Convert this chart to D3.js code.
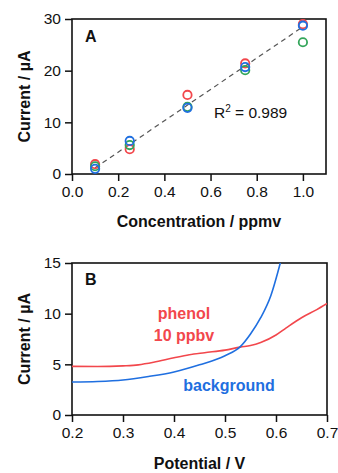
<!DOCTYPE html>
<meta charset="utf-8">
<head>
<style>
body { margin: 0; background: #fff; }
text { font-family: "Liberation Sans", Arial, sans-serif; fill: #111; }
.tick text { font-size: 15.5px; }
.axis path, .axis line { stroke: #111; stroke-width: 1.5; }
.title { font-size: 16px; font-weight: bold; }
.panel { font-size: 16px; font-weight: bold; }
</style>
</head>
<body>
<script src="https://cdn.jsdelivr.net/npm/d3@7"></script>
<script>

// ---- panel A data: current vs concentration, three repeats ----
var conc = [0.1, 0.25, 0.5, 0.75, 1.0];
var runRed = [1.9, 4.8, 15.3, 21.4, 29.0];
var runGreen = [1.5, 5.6, 13.0, 20.1, 25.5];
var runBlue = [1.0, 6.4, 12.8, 20.7, 28.7];
var fitX = [0.1, 1.0];
var fitY = [1.2, 28.5];
var ticksA_x = [0.0, 0.2, 0.4, 0.6, 0.8, 1.0];
var ticksA_y = [0, 10, 20, 30];

// ---- panel B data: voltammograms ----
var phenolV = [0.20, 0.25, 0.30, 0.33, 0.36, 0.40, 0.43, 0.46, 0.50, 0.53, 0.55, 0.57, 0.60, 0.62, 0.65, 0.68, 0.70];
var phenolI = [4.80, 4.78, 4.85, 4.95, 5.20, 5.65, 5.95, 6.15, 6.40, 6.70, 6.85, 7.15, 7.90, 8.60, 9.60, 10.40, 11.00];
var bgV = [0.20, 0.25, 0.30, 0.35, 0.40, 0.45, 0.50, 0.53, 0.55, 0.57, 0.59, 0.61];
var bgI = [3.25, 3.30, 3.45, 3.80, 4.25, 4.95, 5.85, 6.75, 8.00, 9.60, 11.80, 15.30];
var ticksB_x = [0.2, 0.3, 0.4, 0.5, 0.6, 0.7];
var ticksB_y = [0, 5, 10, 15];

var RED = "#f2474c", GREEN = "#33a55a", BLUE = "#1f6fe0";

var svg = d3.select("body").append("svg")
    .attr("width", 338)
    .attr("height", 473);

// draws frame + outward ticks for one panel
function panel(left, top, w, h, xs, ys, xt, yt, xfmt) {
    var g = svg.append("g").attr("transform", "translate(" + left + "," + top + ")");

    g.append("g")
        .attr("class", "axis")
        .attr("transform", "translate(0," + h + ")")
        .call(d3.axisBottom(xs).tickValues(xt).tickSize(7).tickPadding(5).tickSizeOuter(0).tickFormat(xfmt));
    g.append("g")
        .attr("class", "axis")
        .call(d3.axisLeft(ys).tickValues(yt).tickSize(7).tickPadding(4).tickSizeOuter(0));

    g.selectAll(".axis .domain").remove();
    g.selectAll(".tick text").attr("fill", "#111");

    g.append("rect")
        .attr("width", w)
        .attr("height", h)
        .attr("fill", "none")
        .attr("stroke", "#111")
        .attr("stroke-width", 1.6);
    return g;
}

// ===== Panel A =====
var wA = 254, hA = 155;
var xA = d3.scaleLinear().domain([0, 1.1]).range([0, wA]);
var yA = d3.scaleLinear().domain([0, 30]).range([hA, 0]);
var gA = panel(72, 19, wA, hA, xA, yA, ticksA_x, ticksA_y, d3.format(".1f"));

gA.append("path")
    .datum(d3.zip(fitX, fitY))
    .attr("d", d3.line().x(function(d) { return xA(d[0]); }).y(function(d) { return yA(d[1]); }))
    .attr("stroke", "#555")
    .attr("stroke-width", 1.2)
    .attr("stroke-dasharray", "5,4")
    .attr("fill", "none");

[[runRed, RED], [runGreen, GREEN], [runBlue, BLUE]].forEach(function(s) {
    gA.selectAll(null)
        .data(d3.zip(conc, s[0]))
        .enter().append("circle")
        .attr("cx", function(d) { return xA(d[0]); })
        .attr("cy", function(d) { return yA(d[1]); })
        .attr("r", 4.2)
        .attr("fill", "none")
        .attr("stroke", s[1])
        .attr("stroke-width", 1.8);
});

gA.append("text").attr("class", "panel").attr("x", 13).attr("y", 23).text("A");

var r2 = gA.append("text").attr("x", 142).attr("y", 99).style("font-size", "15.5px");
r2.append("tspan").text("R");
r2.append("tspan").attr("dy", -6).style("font-size", "10px").text("2");
r2.append("tspan").attr("dy", 6).text(" = 0.989");

svg.append("text").attr("class", "title")
    .attr("text-anchor", "middle")
    .attr("x", 72 + wA / 2).attr("y", 227)
    .text("Concentration / ppmv");
svg.append("text").attr("class", "title")
    .attr("text-anchor", "middle")
    .attr("transform", "translate(30," + (19 + hA / 2) + ") rotate(-90)")
    .text("Current / µA");

// ===== Panel B =====
var wB = 255, hB = 152;
var xB = d3.scaleLinear().domain([0.2, 0.7]).range([0, wB]);
var yB = d3.scaleLinear().domain([0, 15]).range([hB, 0]);
var gB = panel(72, 263, wB, hB, xB, yB, ticksB_x, ticksB_y, d3.format(".1f"));

gB.append("clipPath").attr("id", "clipB")
    .append("rect").attr("width", wB).attr("height", hB);

var lineB = d3.line()
    .curve(d3.curveMonotoneX)
    .x(function(d) { return xB(d[0]); })
    .y(function(d) { return yB(d[1]); });

gB.append("path")
    .datum(d3.zip(phenolV, phenolI))
    .attr("d", lineB)
    .attr("clip-path", "url(#clipB)")
    .attr("fill", "none")
    .attr("stroke", RED)
    .attr("stroke-width", 1.6);

gB.append("path")
    .datum(d3.zip(bgV, bgI))
    .attr("d", lineB)
    .attr("clip-path", "url(#clipB)")
    .attr("fill", "none")
    .attr("stroke", BLUE)
    .attr("stroke-width", 1.6);

gB.append("text").attr("class", "panel").attr("x", 13).attr("y", 22).text("B");

gB.append("text").attr("class", "panel")
    .attr("text-anchor", "middle").style("fill", RED)
    .attr("x", 112).attr("y", 56).text("phenol");
gB.append("text").attr("class", "panel")
    .attr("text-anchor", "middle").style("fill", RED)
    .attr("x", 112).attr("y", 78).text("10 ppbv");
gB.append("text").attr("class", "panel")
    .attr("text-anchor", "middle").style("fill", BLUE)
    .attr("x", 157).attr("y", 128).text("background");

svg.append("text").attr("class", "title")
    .attr("text-anchor", "middle")
    .attr("x", 72 + wB / 2).attr("y", 469)
    .text("Potential / V");
svg.append("text").attr("class", "title")
    .attr("text-anchor", "middle")
    .attr("transform", "translate(30," + (263 + hB / 2) + ") rotate(-90)")
    .text("Current / µA");

</script>
</body>
